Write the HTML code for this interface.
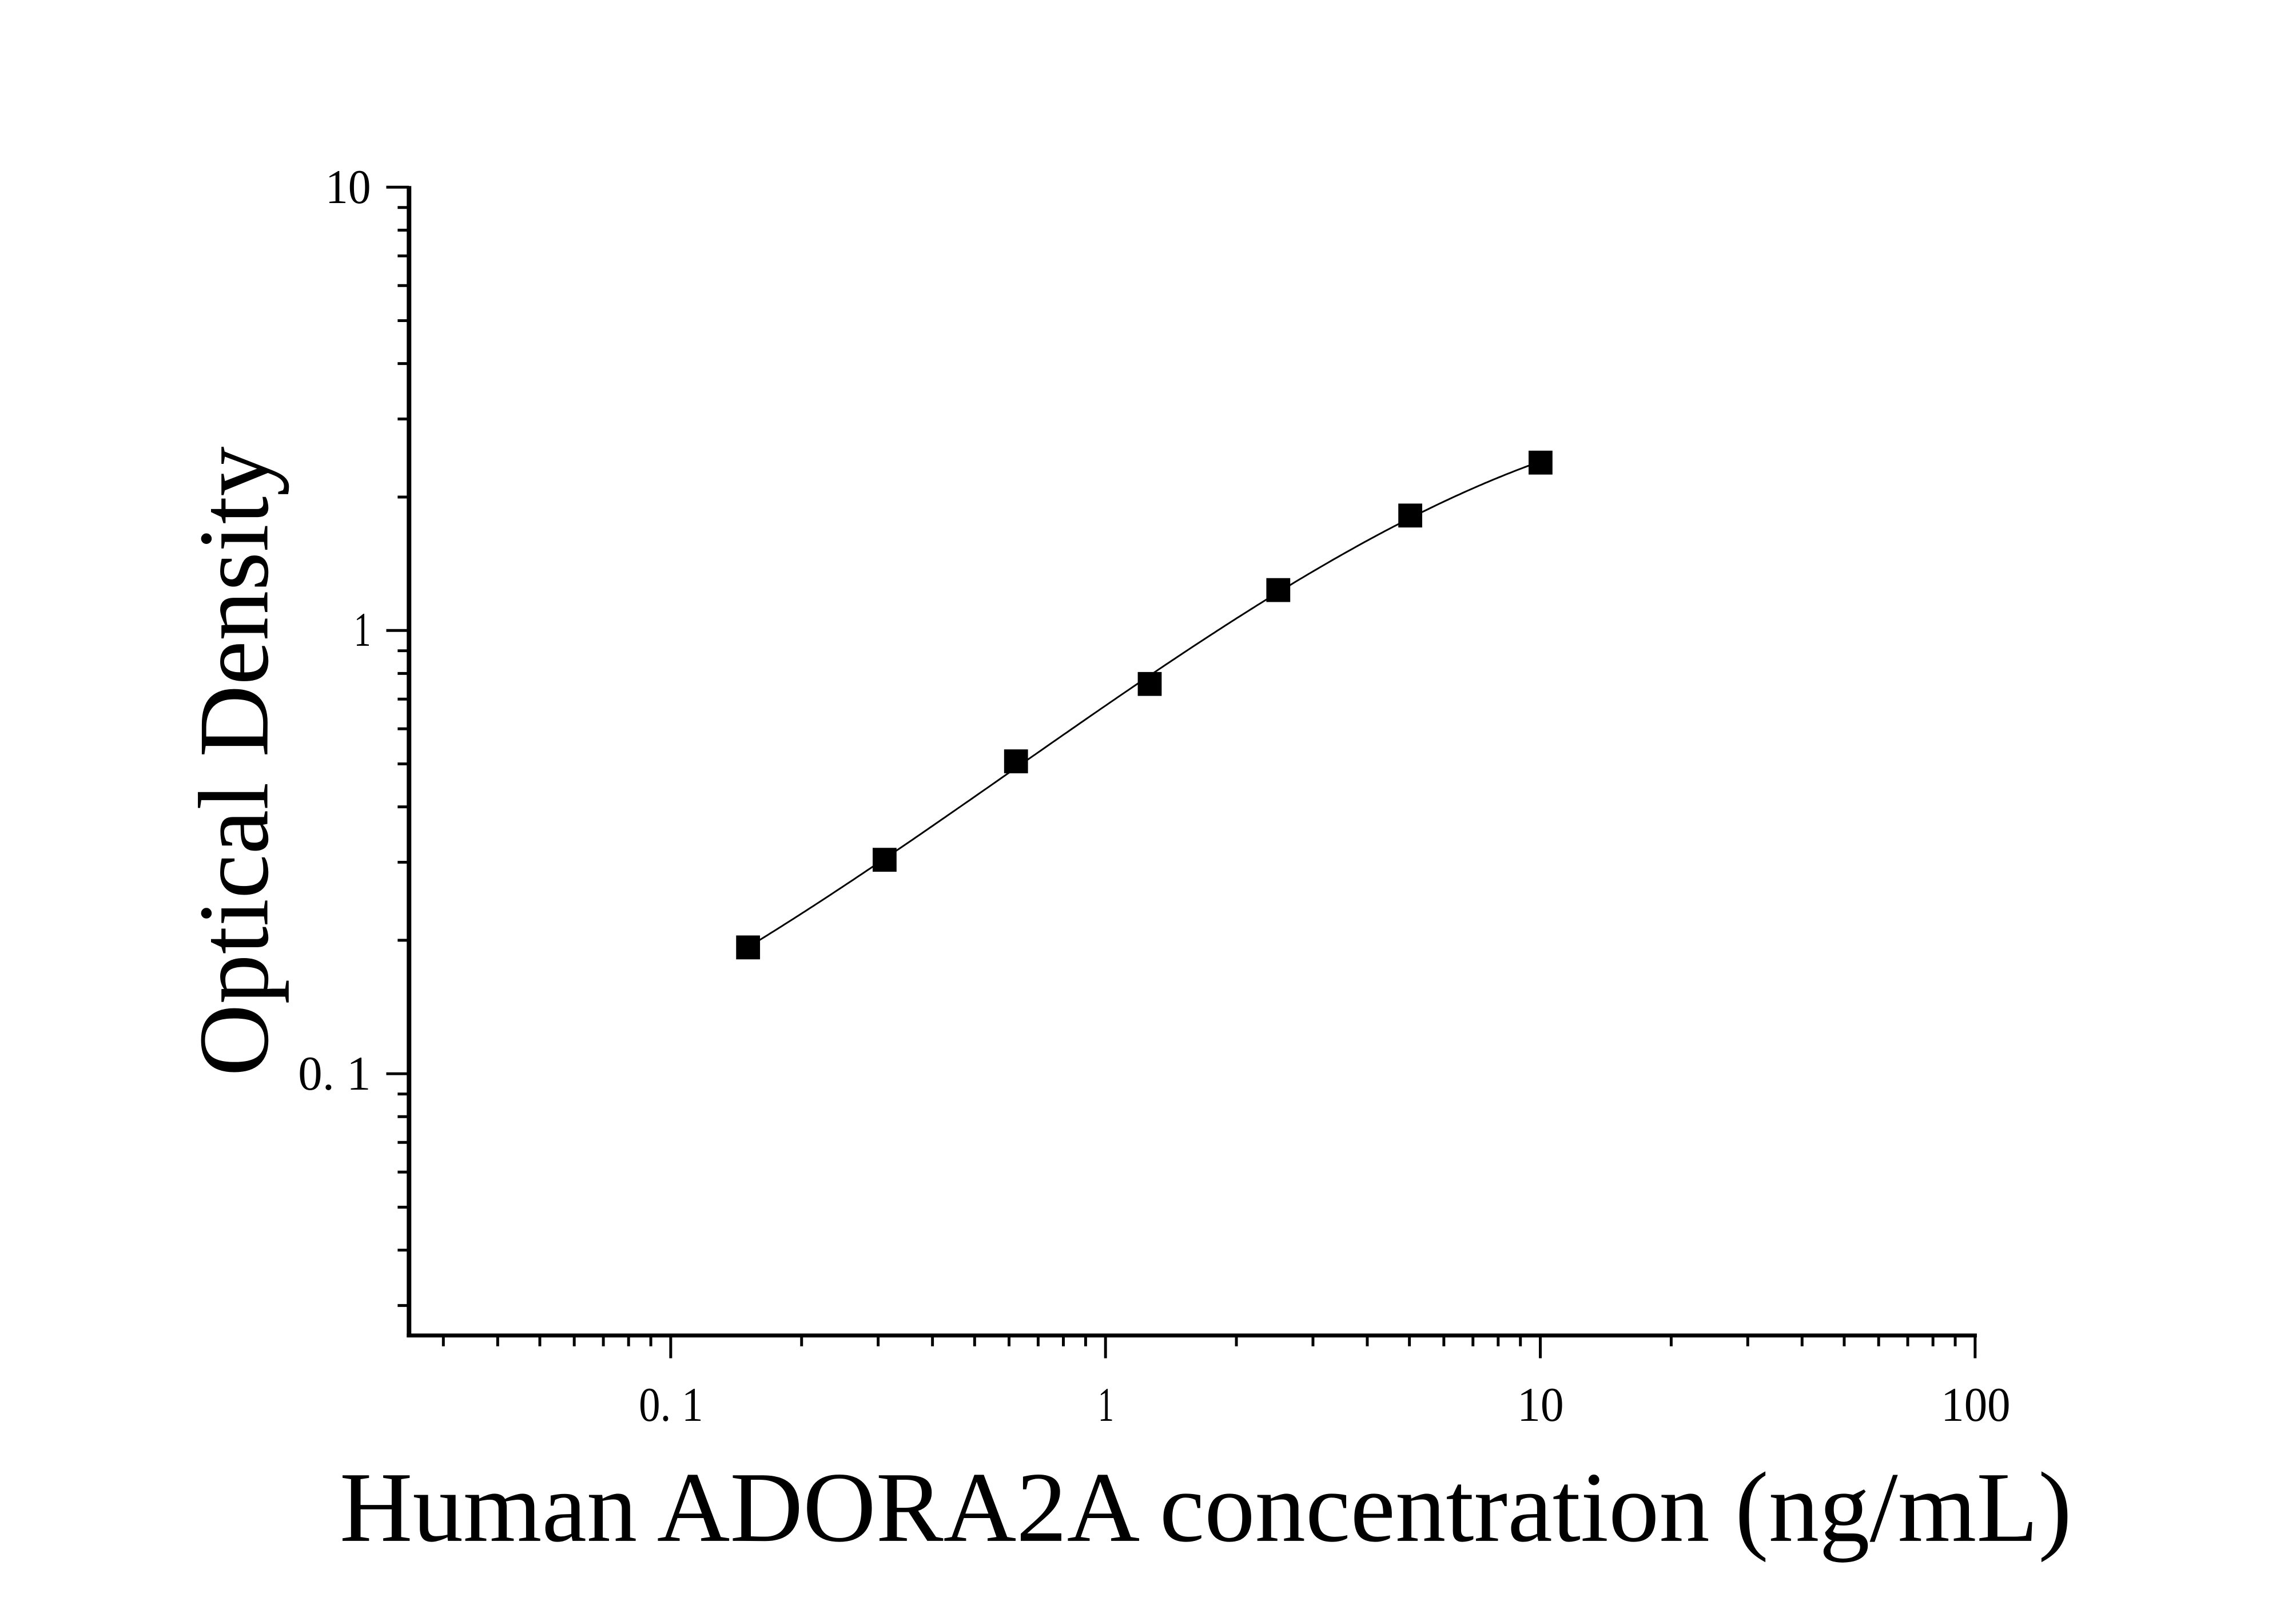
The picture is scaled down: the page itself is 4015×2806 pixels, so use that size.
<!DOCTYPE html>
<html><head><meta charset="utf-8"><style>html,body{margin:0;padding:0;background:#fff}svg{display:block}</style></head><body>
<svg width="4015" height="2806" viewBox="0 0 4015 2806" xmlns="http://www.w3.org/2000/svg" font-family="'Liberation Serif', serif">
<rect width="4015" height="2806" fill="#fff"/>
<g transform="scale(0.9948)">
<g stroke="#000" fill="none">
<line x1="719" y1="327" x2="719" y2="2350" stroke-width="8"/>
<line x1="715" y1="2347" x2="3475" y2="2347" stroke-width="7"/>
<g stroke-width="5" id="yt"></g>
<g stroke-width="5" id="xt"></g>
</g>
<g font-size="85" text-anchor="end">
<text x="652" y="357" textLength="80" lengthAdjust="spacingAndGlyphs">10</text>
<text x="652" y="1135" textLength="30" lengthAdjust="spacingAndGlyphs">1</text>
<text x="652" y="1915" textLength="128" lengthAdjust="spacingAndGlyphs">0. 1</text>
</g>
<g font-size="85">
<text x="1123" y="2497" textLength="113" lengthAdjust="spacingAndGlyphs">0. 1</text>
<text x="1930" y="2497" textLength="28" lengthAdjust="spacingAndGlyphs">1</text>
<text x="2667" y="2497" textLength="82" lengthAdjust="spacingAndGlyphs">10</text>
<text x="3412" y="2497" textLength="122" lengthAdjust="spacingAndGlyphs">100</text>
</g>
<text x="0" y="0" font-size="176" text-anchor="middle" transform="translate(470,1338) rotate(-90)" textLength="1107" lengthAdjust="spacingAndGlyphs">Optical Density</text>
<text x="597" y="2708" font-size="176" textLength="3045" lengthAdjust="spacingAndGlyphs">Human ADORA2A concentration (ng/mL)</text>
<path id="curve" fill="none" stroke="#000" stroke-width="3"/>
<g id="pts" fill="#000"></g>
</g>
</svg>
<script>
var ns="http://www.w3.org/2000/svg";
function L(g,x1,y1,x2,y2){var l=document.createElementNS(ns,"line");l.setAttribute("x1",x1);l.setAttribute("y1",y1);l.setAttribute("x2",x2);l.setAttribute("y2",y2);g.appendChild(l);}
var yt=document.getElementById("yt"),xt=document.getElementById("xt");
function Y(v){return 1887-(Math.log10(v)+1)*779;}
function X(v){return 1179+(Math.log10(v)+1)*764.3;}
[0.1,1,10].forEach(function(d){L(yt,679,Y(d),719,Y(d));});
for(var d of [0.01,0.1,1]){for(var k=2;k<=9;k++){var y=Y(d*k);if(y<2345&&y>327)L(yt,699,y,719,y);}}
[0.1,1,10,100].forEach(function(d){L(xt,X(d),2347,X(d),2387);});
for(var d of [0.01,0.1,1,10]){for(var k=2;k<=9;k++){var x=X(d*k);if(x>722&&x<3470)L(xt,x,2347,x,2366);}}
var P=[[1315,1665],[1555,1511],[1786,1338],[2021,1202],[2247,1037],[2479,906],[2708,813]];
// cubic least squares fit
var m=4,A=[],B=[];
for(var i=0;i<m;i++){A.push(new Array(m).fill(0));B.push(0);}
P.forEach(function(p){var u=(p[0]-2000)/700;var pw=[1,u,u*u,u*u*u];for(var i=0;i<m;i++){B[i]+=pw[i]*p[1];for(var j=0;j<m;j++)A[i][j]+=pw[i]*pw[j];}});
for(var i=0;i<m;i++){for(var k=i+1;k<m;k++){var f=A[k][i]/A[i][i];for(var j=i;j<m;j++)A[k][j]-=f*A[i][j];B[k]-=f*B[i];}}
var co=new Array(m);for(var i=m-1;i>=0;i--){var s0=B[i];for(var j=i+1;j<m;j++)s0-=A[i][j]*co[j];co[i]=s0/A[i][i];}
function F(x){var u=(x-2000)/700;return co[0]+co[1]*u+co[2]*u*u+co[3]*u*u*u;}
var s="";
for(var x=1315;x<=2708;x+=5){s+=(s?" L":"M")+x+","+F(x).toFixed(1);}
document.getElementById("curve").setAttribute("d",s);
var g=document.getElementById("pts");
P.forEach(function(p){var r=document.createElementNS(ns,"rect");r.setAttribute("x",p[0]-21);r.setAttribute("y",p[1]-21);r.setAttribute("width",42);r.setAttribute("height",42);g.appendChild(r);});
</script>
</body></html>
